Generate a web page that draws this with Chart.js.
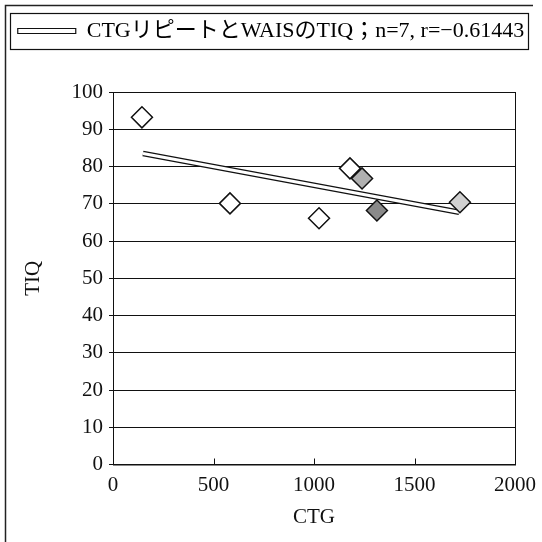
<html lang="ja">
<head>
    <meta charset="UTF-8">
    <title>CTG vs TIQ</title>
    <style>
        body { margin: 0; background: #fff; }
        #wrap { width: 542px; height: 542px; position: relative; }
    </style>
</head>
<body>
    <div id="wrap">
        <canvas id="scatterChart" width="542" height="542"></canvas>
    </div>

    <script src="https://cdn.jsdelivr.net/npm/chart.js"></script>
    <script>
        // CTGリピート数とWAISのTIQ (n=7)
        const ctgValues = [144, 582, 1025, 1179, 1239, 1313, 1726];
        const tiqValues = [93.2, 70.1, 66.1, 79.5, 76.8, 68.2, 70.4];
        const pointFills = ['#ffffff', '#ffffff', '#ffffff', '#ffffff', '#b0b0b0', '#8a8a8a', '#d0d0d0'];

        // 回帰直線の両端
        const trendX = [149, 1722];
        const trendY = [83.5, 67.7];

        const legendText = 'CTGリピートとWAISのTIQ；n=7, r=−0.61443';
        const xTicks = [0, 500, 1000, 1500, 2000];
        const yTicks = [0, 10, 20, 30, 40, 50, 60, 70, 80, 90, 100];

        const serif = "'Liberation Serif', 'Noto Sans CJK JP', serif";

        const points = ctgValues.map((x, i) => ({ x: x, y: tiqValues[i] }));
        const trend = trendX.map((x, i) => ({ x: x, y: trendY[i] }));

        // 枠線・凡例枠・X軸の内向き目盛り
        const framePlugin = {
            id: 'frame',
            beforeDraw(chart) {
                const ctx = chart.ctx;
                ctx.save();
                ctx.strokeStyle = '#222';
                ctx.lineWidth = 1.5;
                ctx.beginPath();
                ctx.moveTo(5.5, 560);
                ctx.lineTo(5.5, 5.5);
                ctx.lineTo(533, 5.5);
                ctx.stroke();
                ctx.restore();
            },
            afterDraw(chart) {
                const ctx = chart.ctx;
                const a = chart.chartArea;
                const xs = chart.scales.x;
                ctx.save();
                ctx.strokeStyle = '#111';
                ctx.lineWidth = 1;
                ctx.strokeRect(a.left + 0.5, a.top + 0.5, a.right - a.left, a.bottom - a.top);
                xTicks.forEach(v => {
                    const px = Math.round(xs.getPixelForValue(v)) + 0.5;
                    ctx.beginPath();
                    ctx.moveTo(px, a.bottom);
                    ctx.lineTo(px, a.bottom - 6);
                    ctx.stroke();
                });
                const lg = chart.legend;
                if (lg && lg.legendHitBoxes && lg.legendHitBoxes.length) {
                    ctx.lineWidth = 1.2;
                    ctx.strokeRect(10.5, lg.top + 3.5, 518, lg.height - 6);
                }
                ctx.restore();
            }
        };

        new Chart(document.getElementById('scatterChart'), {
            type: 'scatter',
            data: {
                datasets: [
                    {
                        label: legendText,
                        data: trend,
                        showLine: true,
                        borderColor: '#111',
                        borderWidth: 5.5,
                        pointRadius: 0,
                        backgroundColor: '#fff',
                        order: 3
                    },
                    {
                        label: 'trend-inner',
                        data: trend,
                        showLine: true,
                        borderColor: '#fff',
                        borderWidth: 3,
                        pointRadius: 0,
                        order: 2
                    },
                    {
                        label: 'points',
                        data: points,
                        pointStyle: 'rectRot',
                        pointRadius: 10.5,
                        pointBorderWidth: 1.5,
                        borderColor: '#111',
                        backgroundColor: pointFills,
                        order: 1
                    }
                ]
            },
            options: {
                responsive: false,
                animation: false,
                layout: { padding: { left: 8, right: 8, top: 10, bottom: 8 } },
                plugins: {
                    legend: {
                        position: 'top',
                        labels: {
                            font: { family: serif, size: 22 },
                            color: '#111',
                            boxWidth: 58,
                            boxHeight: 5,
                            padding: 10,
                            generateLabels: chart => [{
                                text: legendText,
                                fillStyle: '#fff',
                                strokeStyle: '#111',
                                lineWidth: 1.2,
                                datasetIndex: 0
                            }]
                        }
                    },
                    tooltip: { enabled: false }
                },
                scales: {
                    x: {
                        type: 'linear',
                        min: 0,
                        max: 2000,
                        afterBuildTicks: s => { s.ticks = xTicks.map(v => ({ value: v })); },
                        afterFit: s => { s.height = 69.5; },
                        grid: { display: false },
                        border: { display: true, color: '#111', width: 1 },
                        ticks: { font: { family: serif, size: 21 }, color: '#111', padding: 0, maxRotation: 0, callback: v => String(v) },
                        title: { display: true, text: 'CTG', font: { family: serif, size: 21 }, color: '#111', padding: { top: 8, bottom: 4 } }
                    },
                    top: {
                        type: 'linear',
                        position: 'top',
                        min: 0,
                        max: 2000,
                        afterFit: s => { s.height = 40; },
                        grid: { display: false },
                        border: { display: false },
                        ticks: { display: false }
                    },
                    y: {
                        min: 0,
                        max: 100,
                        afterBuildTicks: s => { s.ticks = yTicks.map(v => ({ value: v })); },
                        afterFit: s => { s.width = 105; },
                        grid: { color: '#111', lineWidth: 1, tickLength: 4 },
                        border: { display: true, color: '#111', width: 1 },
                        ticks: { font: { family: serif, size: 21 }, color: '#111', padding: 6, callback: v => String(v) },
                        title: { display: true, text: 'TIQ', font: { family: serif, size: 21 }, color: '#111', padding: { top: 13, bottom: 4 } }
                    },
                    right: {
                        type: 'linear',
                        position: 'right',
                        min: 0,
                        max: 100,
                        afterFit: s => { s.width = 19; },
                        grid: { display: false },
                        border: { display: false },
                        ticks: { display: false }
                    }
                }
            },
            plugins: [framePlugin]
        });
    </script>
</body>
</html>
